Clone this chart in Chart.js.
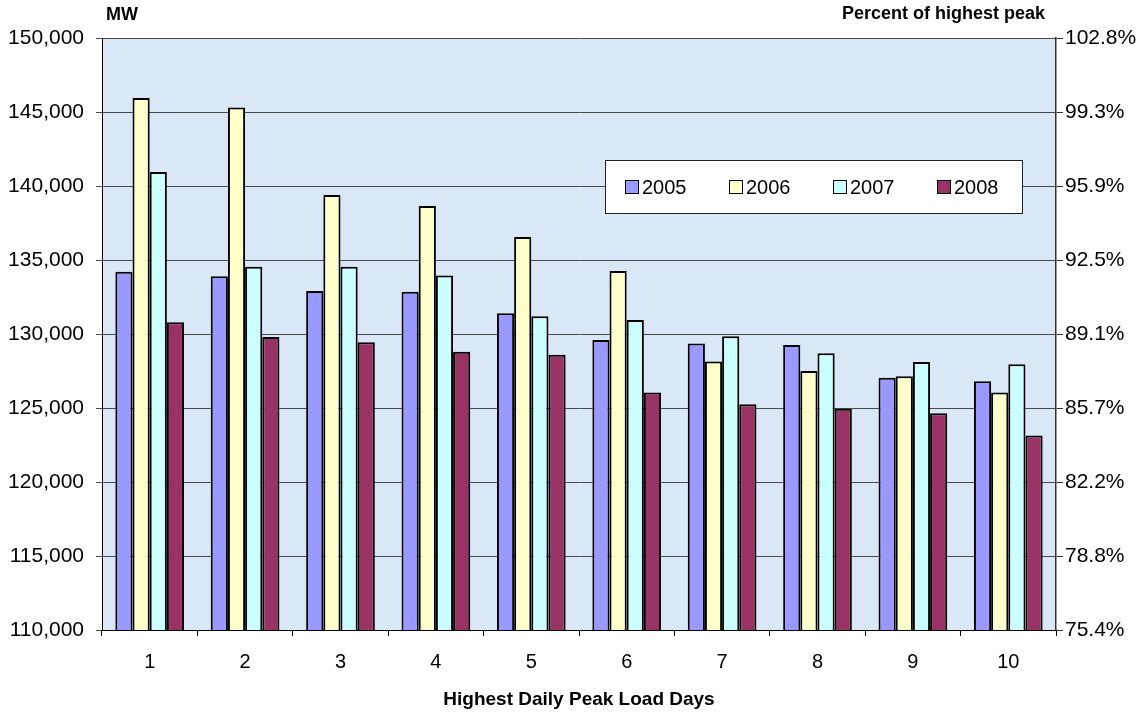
<!DOCTYPE html>
<html>
<head>
<meta charset="utf-8">
<script src="https://cdn.jsdelivr.net/npm/chart.js@4"></script>
<style>
  html, body { margin: 0; padding: 0; background: #fff; }
  #wrap { width: 1148px; height: 715px; }
</style>
</head>
<body>
<div id="wrap"><canvas id="peakChart" width="1148" height="715"></canvas></div>
<script>
// highest daily peak load days
var days = ["1", "2", "3", "4", "5", "6", "7", "8", "9", "10"];
var years = ["2005", "2006", "2007", "2008"];
var mw2005 = [134200, 133900, 132900, 132850, 131400, 129600, 129350, 129250, 127050, 126800];
var mw2006 = [145950, 145300, 139400, 138650, 136550, 134250, 128150, 127500, 127150, 126050];
var mw2007 = [140950, 134550, 134550, 133950, 131200, 130950, 129850, 128700, 128100, 127950];
var mw2008 = [130800, 129800, 129450, 128800, 128600, 126050, 125250, 124950, 124650, 123150];
var mwTicks = [110000, 115000, 120000, 125000, 130000, 135000, 140000, 145000, 150000];
var pctTicks = ["75.4%", "78.8%", "82.2%", "85.7%", "89.1%", "92.5%", "95.9%", "99.3%", "102.8%"];
var colors = ["#9999ff", "#ffffcc", "#ccffff", "#993366"];

var font = "'Liberation Sans', Arial, sans-serif";

// plot background + in-plot legend + corner titles
var decor = {
  id: 'decor',
  beforeDraw: function(chart) {
    var c = chart.ctx, a = chart.chartArea;
    c.save();
    c.fillStyle = '#d9e7f6';
    c.fillRect(a.left, a.top, a.right - a.left, a.bottom - a.top);
    c.restore();
  },
  afterDraw: function(chart) {
    var c = chart.ctx, a = chart.chartArea;
    c.save();
    // titles
    c.fillStyle = '#000';
    c.font = 'bold 18px ' + font;
    c.textBaseline = 'middle';
    c.textAlign = 'left';
    c.fillText('MW', a.left + 4, 15);
    c.textAlign = 'right';
    c.fillText('Percent of highest peak', a.right - 11, 14);
    // legend box
    var lx = a.left + 503, ly = a.top + 122;
    c.fillStyle = '#fff';
    c.fillRect(lx, ly, 417, 53);
    c.strokeStyle = '#222';
    c.lineWidth = 1;
    c.strokeRect(lx + 0.5, ly + 0.5, 417, 53);
    c.font = '20px ' + font;
    c.textAlign = 'left';
    chart.data.datasets.forEach(function(ds, i) {
      var x = lx + 20 + i * 104;
      c.fillStyle = ds.backgroundColor;
      c.fillRect(x, ly + 20, 13, 13);
      c.strokeStyle = '#000';
      c.strokeRect(x + 0.5, ly + 20.5, 13, 13);
      c.fillStyle = '#000';
      c.fillText(ds.label, x + 17, ly + 28);
    });
    c.restore();
  }
};

var ctx = document.getElementById("peakChart").getContext('2d');
var peakChart = new Chart(ctx, {
  type: 'bar',
  data: {
    labels: days,
    datasets: [
      { label: years[0], data: mw2005, backgroundColor: colors[0] },
      { label: years[1], data: mw2006, backgroundColor: colors[1] },
      { label: years[2], data: mw2007, backgroundColor: colors[2] },
      { label: years[3], data: mw2008, backgroundColor: colors[3] }
    ]
  },
  options: {
    responsive: false,
    animation: false,
    datasets: {
      bar: {
        borderColor: '#000',
        borderWidth: 2,
        categoryPercentage: 0.72,
        barPercentage: 1.0
      }
    },
    layout: { padding: { top: 38, left: 0, right: 0, bottom: 0 } },
    plugins: {
      legend: { display: false },
      tooltip: { enabled: false }
    },
    scales: {
      x: {
        afterFit: function(s) { s.height = 85; },
        grid: {
          offset: true,
          drawOnChartArea: false,
          drawTicks: true,
          tickLength: 6,
          color: '#000'
        },
        border: { color: '#000', width: 1 },
        ticks: {
          color: '#000',
          padding: 14,
          font: { size: 20, family: font }
        },
        title: {
          display: true,
          text: 'Highest Daily Peak Load Days',
          color: '#000',
          padding: { top: 6 },
          font: { size: 19, weight: 'bold', family: font }
        }
      },
      y: {
        position: 'left',
        min: mwTicks[0],
        max: mwTicks[mwTicks.length - 1],
        afterFit: function(s) { s.width = 102; },
        afterBuildTicks: function(s) { s.ticks = mwTicks.map(function(v) { return { value: v }; }); },
        grid: { color: '#4a4a4a', lineWidth: 1, tickLength: 6 },
        border: { color: '#000', width: 1 },
        ticks: {
          color: '#000',
          padding: 12,
          font: { size: 21, family: font },
          callback: function(v) { return v.toLocaleString('en-US'); }
        }
      },
      y2: {
        position: 'right',
        min: mwTicks[0],
        max: mwTicks[mwTicks.length - 1],
        afterFit: function(s) { s.width = 92; },
        afterBuildTicks: function(s) { s.ticks = mwTicks.map(function(v) { return { value: v }; }); },
        grid: { drawOnChartArea: false, color: '#333', tickLength: 7 },
        border: { color: '#333', width: 1.5 },
        ticks: {
          color: '#000',
          padding: 2,
          font: { size: 21, family: font },
          callback: function(v, i) { return pctTicks[i]; }
        }
      }
    }
  },
  plugins: [decor]
});
</script>
</body>
</html>
